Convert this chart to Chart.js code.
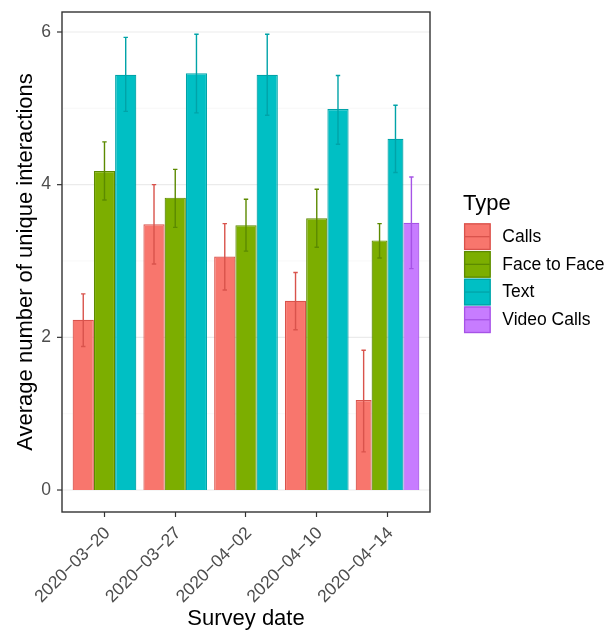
<!DOCTYPE html>
<html>
<head>
<meta charset="utf-8">
<title>Average number of unique interactions</title>
<script src="https://cdn.jsdelivr.net/npm/chart.js@4/dist/chart.umd.min.js"></script>
<style>
    html, body { margin: 0; padding: 0; background: #ffffff; }
    canvas { display: block; }
</style>
</head>
<body>
<canvas id="grafico" width="607" height="635"></canvas>
<script>
// 1. DATA
const fechas = ['2020-03-20', '2020-03-27', '2020-04-02', '2020-04-10', '2020-04-14'];
const tipos = ['Calls', 'Face to Face', 'Text', 'Video Calls'];

const calls     = [2.23, 3.48, 3.06, 2.48, 1.18];
const callsLo   = [1.88, 2.96, 2.62, 2.10, 0.50];
const callsHi   = [2.57, 4.00, 3.49, 2.85, 1.83];

const face      = [4.18, 3.83, 3.47, 3.56, 3.27];
const faceLo    = [3.80, 3.44, 3.13, 3.18, 3.04];
const faceHi    = [4.56, 4.20, 3.81, 3.94, 3.49];

const text      = [5.44, 5.46, 5.44, 4.99, 4.60];
const textLo    = [4.96, 4.94, 4.91, 4.53, 4.16];
const textHi    = [5.93, 5.97, 5.97, 5.43, 5.04];

const video     = [null, null, null, null, 3.50];
const videoLo   = [null, null, null, null, 2.90];
const videoHi   = [null, null, null, null, 4.10];

const yTicks = [0, 1, 2, 3, 4, 5, 6];

// 2. STYLE
const rellenos = ['#F8766D', '#7CAE00', '#00BFC4', '#C77CFF'];
const bordes   = ['#D9534C', '#5C8A00', '#00A3A8', '#A653E6'];
const fuenteBase = "'Liberation Sans', Arial, Helvetica, sans-serif";

// panel box (ggplot adds 0.6 category of space each side, Chart.js only 0.5)
const panel = { left: 62, right: 430 };
const extra = 7.1;

const valores = [calls, face, text, video];
const bajos   = [callsLo, faceLo, textLo, videoLo];
const altos   = [callsHi, faceHi, textHi, videoHi];

// 3. PLUGINS: grid, error bars, panel border and legend
const rejilla = {
    id: 'rejilla',
    beforeDatasetsDraw(chart) {
        const ctx = chart.ctx;
        const y = chart.scales.y;
        ctx.save();
        yTicks.forEach(v => {
            const py = y.getPixelForValue(v);
            const mayor = v % 2 === 0;
            ctx.strokeStyle = mayor ? '#ebebeb' : '#f4f4f4';
            ctx.lineWidth = mayor ? 1.1 : 0.6;
            ctx.beginPath();
            ctx.moveTo(panel.left, py);
            ctx.lineTo(panel.right, py);
            ctx.stroke();
            if (mayor) {
                ctx.strokeStyle = '#333333';
                ctx.lineWidth = 1.2;
                ctx.beginPath();
                ctx.moveTo(panel.left - 5, py);
                ctx.lineTo(panel.left, py);
                ctx.stroke();
            }
        });
        ctx.restore();
    }
};

const barrasError = {
    id: 'barrasError',
    afterDatasetsDraw(chart) {
        const ctx = chart.ctx;
        const y = chart.scales.y;
        ctx.save();
        chart.data.datasets.forEach((ds, d) => {
            const meta = chart.getDatasetMeta(d);
            meta.data.forEach((bar, i) => {
                if (valores[d][i] === null) return;
                const x = bar.x;
                const yLo = y.getPixelForValue(bajos[d][i]);
                const yHi = y.getPixelForValue(altos[d][i]);
                ctx.strokeStyle = bordes[d];
                ctx.lineWidth = 1.4;
                ctx.beginPath();
                ctx.moveTo(x, yLo); ctx.lineTo(x, yHi);
                ctx.moveTo(x - 2.2, yLo); ctx.lineTo(x + 2.2, yLo);
                ctx.moveTo(x - 2.2, yHi); ctx.lineTo(x + 2.2, yHi);
                ctx.stroke();
            });
        });
        ctx.restore();
    }
};

const marcoYLeyenda = {
    id: 'marcoYLeyenda',
    afterDraw(chart) {
        const ctx = chart.ctx;
        const a = chart.chartArea;
        ctx.save();
        // panel border
        ctx.strokeStyle = '#333333';
        ctx.lineWidth = 1.4;
        ctx.strokeRect(panel.left, a.top, panel.right - panel.left, a.bottom - a.top);

        // legend
        ctx.fillStyle = '#000000';
        ctx.textAlign = 'left';
        ctx.textBaseline = 'alphabetic';
        ctx.font = '22px ' + fuenteBase;
        ctx.fillText('Type', 463, 210);

        const kx = 464, ky = 223.3, k = 26.7, paso = 27.7;
        ctx.font = '17.5px ' + fuenteBase;
        ctx.textBaseline = 'middle';
        tipos.forEach((t, i) => {
            const top = ky + i * paso;
            ctx.fillStyle = rellenos[i];
            ctx.fillRect(kx, top, k, k);
            ctx.strokeStyle = bordes[i];
            ctx.lineWidth = 1.3;
            ctx.strokeRect(kx + 0.6, top + 0.6, k - 1.2, k - 1.2);
            ctx.beginPath();
            ctx.moveTo(kx + 1, top + k / 2);
            ctx.lineTo(kx + k - 1, top + k / 2);
            ctx.stroke();
            ctx.fillStyle = '#000000';
            ctx.fillText(t, 502.3, top + k / 2 + 0.5);
        });
        ctx.restore();
    }
};

// 4. CHART
const datasets = tipos.map((t, i) => ({
    label: t,
    data: valores[i],
    backgroundColor: rellenos[i],
    borderColor: bordes[i],
    borderWidth: 1.2,
    categoryPercentage: 0.9,
    barPercentage: 1.0,
    skipNull: true
}));

new Chart(document.getElementById('grafico'), {
    type: 'bar',
    data: { labels: fechas, datasets: datasets },
    options: {
        responsive: false,
        animation: false,
        events: [],
        layout: { padding: { top: 12, right: 607 - panel.right + extra, bottom: 0, left: 0 } },
        plugins: {
            legend: { display: false },
            tooltip: { enabled: false }
        },
        scales: {
            x: {
                afterFit(scale) {
                    scale.height = 123;
                    scale.paddingLeft = 0;
                    scale.paddingRight = 0;
                },
                grid: {
                    offset: false,
                    drawOnChartArea: false,
                    drawTicks: true,
                    tickLength: 5,
                    tickColor: '#333333',
                    tickWidth: 1.2
                },
                border: { display: false },
                ticks: {
                    autoSkip: false,
                    minRotation: 45,
                    maxRotation: 45,
                    padding: 6,
                    labelOffset: 3,
                    color: '#4d4d4d',
                    font: { family: fuenteBase, size: 17.5 },
                    callback: function (v) { return this.getLabelForValue(v).replace(/-/g, '\u2212'); }
                },
                title: {
                    display: true,
                    text: 'Survey date',
                    color: '#000000',
                    font: { family: fuenteBase, size: 22 },
                    padding: { top: 0, bottom: 2.7 }
                }
            },
            y: {
                min: -0.288,
                max: 6.262,
                afterFit(scale) {
                    scale.width = panel.left + extra;
                    scale.paddingTop = 0;
                    scale.paddingBottom = 0;
                },
                afterBuildTicks(scale) { scale.ticks = yTicks.map(v => ({ value: v })); },
                grid: { display: false, drawTicks: false },
                border: { display: false },
                ticks: {
                    padding: 11 + extra,
                    color: '#4d4d4d',
                    font: { family: fuenteBase, size: 17.5 },
                    callback: v => (v % 2 === 0 ? v : '')
                },
                title: {
                    display: true,
                    text: 'Average number of unique interactions',
                    color: '#000000',
                    font: { family: fuenteBase, size: 22 },
                    padding: { top: 12.5, bottom: 0 }
                }
            }
        }
    },
    plugins: [rejilla, barrasError, marcoYLeyenda]
});
</script>
</body>
</html>
